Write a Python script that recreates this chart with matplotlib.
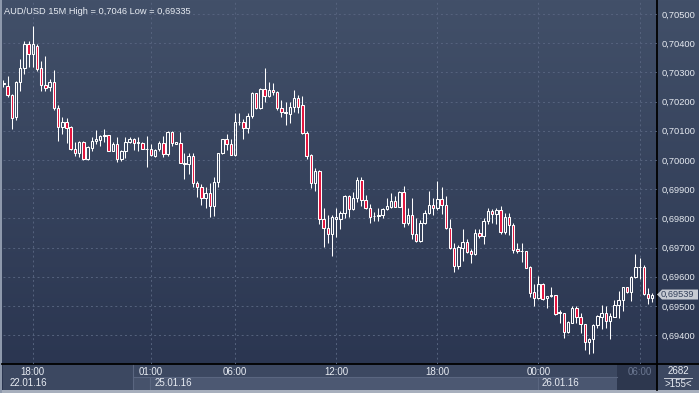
import numpy as np
import matplotlib
matplotlib.use("Agg")
import matplotlib.pyplot as plt
from matplotlib.colors import LinearSegmentedColormap
from matplotlib.patches import Rectangle, Polygon
from matplotlib import transforms

plt.rcParams['font.family'] = ['Liberation Sans', 'DejaVu Sans']

# =========================
# DATOS (velas de 15 minutos)
# =========================

symbol = "AUD/USD"
timeframe = "15M"

opens = [
    0.70260, 0.70253, 0.70223, 0.70146, 0.70266, 0.70314, 0.70397, 0.70362, 0.70391, 0.70314,
    0.70256, 0.70251, 0.70267, 0.70179, 0.70114, 0.70130, 0.70112, 0.70037, 0.70023, 0.70062,
    0.70002, 0.70042, 0.70066, 0.70070, 0.70081, 0.70085, 0.70032, 0.70054, 0.70002, 0.70031,
    0.70062, 0.70071, 0.70058, 0.70058, 0.70037, 0.70038, 0.70015, 0.70038, 0.70058, 0.70022,
    0.70097, 0.70056, 0.70059, 0.69989, 0.69986, 0.70015, 0.69920, 0.69909, 0.69869, 0.69886,
    0.69843, 0.69924, 0.70023, 0.70071, 0.70054, 0.70018, 0.70130, 0.70130, 0.70109, 0.70151,
    0.70228, 0.70177, 0.70242, 0.70219, 0.70239, 0.70232, 0.70177, 0.70160, 0.70158, 0.70183,
    0.70211, 0.70188, 0.70094, 0.70017, 0.69920, 0.69962, 0.69797, 0.69766, 0.69747, 0.69797,
    0.69797, 0.69817, 0.69877, 0.69831, 0.69869, 0.69932, 0.69863, 0.69835, 0.69808, 0.69808,
    0.69811, 0.69831, 0.69840, 0.69859, 0.69840, 0.69890, 0.69785, 0.69812, 0.69747, 0.69724,
    0.69785, 0.69817, 0.69845, 0.69835, 0.69865, 0.69845, 0.69766, 0.69698, 0.69638, 0.69700,
    0.69718, 0.69688, 0.69677, 0.69749, 0.69740, 0.69791, 0.69825, 0.69814, 0.69829, 0.69754,
    0.69804, 0.69777, 0.69694, 0.69688, 0.69688, 0.69632, 0.69547, 0.69526, 0.69575, 0.69526,
    0.69534, 0.69537, 0.69476, 0.69475, 0.69412, 0.69443, 0.69492, 0.69461, 0.69438, 0.69376,
    0.69386, 0.69435, 0.69463, 0.69475, 0.69450, 0.69463, 0.69503, 0.69520, 0.69564, 0.69549,
    0.69598, 0.69632, 0.69635, 0.69542, 0.69526,
]

highs = [
    0.70274, 0.70288, 0.70226, 0.70270, 0.70345, 0.70409, 0.70409, 0.70460, 0.70397, 0.70339,
    0.70356, 0.70276, 0.70308, 0.70188, 0.70146, 0.70143, 0.70116, 0.70063, 0.70066, 0.70066,
    0.70048, 0.70080, 0.70103, 0.70087, 0.70107, 0.70086, 0.70062, 0.70078, 0.70034, 0.70080,
    0.70078, 0.70074, 0.70080, 0.70062, 0.70082, 0.70055, 0.70037, 0.70064, 0.70082, 0.70098,
    0.70100, 0.70062, 0.70097, 0.70023, 0.70025, 0.70025, 0.69929, 0.69918, 0.69909, 0.69922,
    0.69941, 0.70025, 0.70072, 0.70089, 0.70071, 0.70160, 0.70160, 0.70139, 0.70160, 0.70233,
    0.70230, 0.70246, 0.70315, 0.70267, 0.70263, 0.70235, 0.70206, 0.70200, 0.70200, 0.70240,
    0.70223, 0.70219, 0.70100, 0.70020, 0.69972, 0.69966, 0.69835, 0.69812, 0.69812, 0.69835,
    0.69826, 0.69880, 0.69880, 0.69891, 0.69943, 0.69943, 0.69880, 0.69849, 0.69823, 0.69835,
    0.69836, 0.69869, 0.69886, 0.69877, 0.69894, 0.69911, 0.69835, 0.69869, 0.69800, 0.69795,
    0.69829, 0.69895, 0.69869, 0.69929, 0.69906, 0.69877, 0.69797, 0.69715, 0.69709, 0.69763,
    0.69728, 0.69696, 0.69763, 0.69763, 0.69800, 0.69835, 0.69831, 0.69835, 0.69842, 0.69820,
    0.69820, 0.69783, 0.69717, 0.69717, 0.69689, 0.69637, 0.69575, 0.69603, 0.69580, 0.69534,
    0.69566, 0.69537, 0.69486, 0.69477, 0.69450, 0.69498, 0.69498, 0.69477, 0.69438, 0.69389,
    0.69438, 0.69469, 0.69503, 0.69498, 0.69475, 0.69520, 0.69552, 0.69566, 0.69566, 0.69603,
    0.69677, 0.69663, 0.69640, 0.69561, 0.69545,
]

lows = [
    0.70251, 0.70215, 0.70105, 0.70137, 0.70237, 0.70294, 0.70320, 0.70320, 0.70306, 0.70236,
    0.70236, 0.70237, 0.70171, 0.70066, 0.70089, 0.70059, 0.70034, 0.70014, 0.70009, 0.70000,
    0.70000, 0.70032, 0.70055, 0.70048, 0.70062, 0.70031, 0.70031, 0.69994, 0.69998, 0.70007,
    0.70059, 0.70034, 0.70032, 0.70037, 0.69977, 0.70014, 0.70011, 0.70032, 0.70009, 0.70014,
    0.70048, 0.70055, 0.69989, 0.69934, 0.69952, 0.69909, 0.69872, 0.69846, 0.69835, 0.69806,
    0.69808, 0.69906, 0.70022, 0.70034, 0.70018, 0.70014, 0.70119, 0.70071, 0.70094, 0.70143,
    0.70175, 0.70175, 0.70198, 0.70217, 0.70224, 0.70171, 0.70146, 0.70120, 0.70126, 0.70163,
    0.70162, 0.70089, 0.70004, 0.69904, 0.69895, 0.69781, 0.69703, 0.69717, 0.69672, 0.69737,
    0.69763, 0.69800, 0.69806, 0.69829, 0.69857, 0.69842, 0.69831, 0.69785, 0.69792, 0.69792,
    0.69801, 0.69829, 0.69836, 0.69838, 0.69838, 0.69770, 0.69777, 0.69728, 0.69720, 0.69720,
    0.69781, 0.69815, 0.69812, 0.69829, 0.69815, 0.69763, 0.69694, 0.69617, 0.69626, 0.69655,
    0.69680, 0.69646, 0.69675, 0.69734, 0.69712, 0.69781, 0.69785, 0.69781, 0.69747, 0.69747,
    0.69743, 0.69682, 0.69680, 0.69652, 0.69629, 0.69532, 0.69500, 0.69523, 0.69520, 0.69492,
    0.69532, 0.69469, 0.69443, 0.69389, 0.69408, 0.69441, 0.69441, 0.69408, 0.69349, 0.69335,
    0.69340, 0.69424, 0.69420, 0.69424, 0.69386, 0.69461, 0.69458, 0.69484, 0.69545, 0.69518,
    0.69595, 0.69591, 0.69538, 0.69505, 0.69515,
]

closes = [
    0.70262, 0.70222, 0.70145, 0.70267, 0.70314, 0.70397, 0.70362, 0.70397, 0.70312, 0.70256,
    0.70248, 0.70267, 0.70178, 0.70114, 0.70130, 0.70111, 0.70037, 0.70023, 0.70062, 0.70002,
    0.70044, 0.70066, 0.70073, 0.70081, 0.70085, 0.70032, 0.70054, 0.70002, 0.70031, 0.70061,
    0.70071, 0.70059, 0.70062, 0.70037, 0.70038, 0.70016, 0.70033, 0.70058, 0.70022, 0.70096,
    0.70057, 0.70062, 0.69989, 0.69985, 0.70015, 0.69920, 0.69906, 0.69869, 0.69886, 0.69843,
    0.69924, 0.70023, 0.70071, 0.70054, 0.70018, 0.70130, 0.70129, 0.70109, 0.70151, 0.70228,
    0.70177, 0.70242, 0.70219, 0.70239, 0.70232, 0.70177, 0.70163, 0.70165, 0.70183, 0.70211,
    0.70183, 0.70094, 0.70014, 0.69920, 0.69962, 0.69797, 0.69766, 0.69747, 0.69804, 0.69804,
    0.69817, 0.69877, 0.69831, 0.69869, 0.69932, 0.69863, 0.69835, 0.69806, 0.69807, 0.69812,
    0.69831, 0.69842, 0.69859, 0.69840, 0.69890, 0.69785, 0.69812, 0.69747, 0.69724, 0.69785,
    0.69817, 0.69845, 0.69835, 0.69865, 0.69845, 0.69766, 0.69697, 0.69638, 0.69701, 0.69718,
    0.69686, 0.69677, 0.69749, 0.69740, 0.69791, 0.69825, 0.69814, 0.69829, 0.69754, 0.69804,
    0.69777, 0.69692, 0.69687, 0.69687, 0.69631, 0.69545, 0.69526, 0.69575, 0.69524, 0.69533,
    0.69535, 0.69472, 0.69477, 0.69412, 0.69445, 0.69494, 0.69461, 0.69438, 0.69376, 0.69386,
    0.69435, 0.69467, 0.69475, 0.69450, 0.69467, 0.69503, 0.69520, 0.69564, 0.69549, 0.69598,
    0.69632, 0.69635, 0.69541, 0.69526, 0.69539,
]

time_idx = [7, 35, 55, 79, 103, 127, 151]
time_labels = ["18:00", "01:00", "06:00", "12:00", "18:00", "00:00", "06:00"]
date_idx = [0, 35, 127]
date_labels = ["22.01.16", "25.01.16", "26.01.16"]
price_ticks = [0.694, 0.695, 0.696, 0.697, 0.698, 0.699,
               0.700, 0.701, 0.702, 0.703, 0.704, 0.705]
bars_total = 2682
bars_visible = 155


def fmt(v, dec=5):
    return f"{v:.{dec}f}".replace(".", ",")


# =========================
# FIGURA Y FONDO
# =========================

W, H = 699, 393
fig = plt.figure(figsize=(W / 100, H / 100), dpi=100)

bg = fig.add_axes([0, 0, 1, 1])
cmap = LinearSegmentedColormap.from_list("fondo", ["#425069", "#29344f"])
bg.imshow(np.linspace(0, 1, 256).reshape(-1, 1), cmap=cmap, aspect="auto",
          extent=[0, W, H, 0], zorder=0)
bg.set_xlim(0, W)
bg.set_ylim(H, 0)
bg.axis("off")

# panel inferior (eje de tiempo)
panel = [
    (3, 364, 654, 13, "#3c4861"),
    (3, 377, 130, 13, "#3c4861"),
    (133, 377, 17, 13, "#46526b"),
    (150, 377, 388, 13, "#4c5872"),
    (538, 377, 79, 13, "#4a5670"),
    (617, 364, 40, 26, "#2d374e"),
    (657, 364, 42, 26, "#3c4861"),
]
for x0, y0, w, h, col in panel:
    bg.add_patch(Rectangle((x0, y0), w, h, facecolor=col, edgecolor="none", zorder=1))

bg.plot([133, 617], [377, 377], color="#5a6680", lw=0.8, zorder=2)
bg.plot([133, 133], [364, 390], color="#5a6680", lw=0.8, zorder=2)
bg.plot([150, 150], [377, 390], color="#5a6680", lw=0.8, zorder=2)
bg.plot([538, 538], [377, 390], color="#5a6680", lw=0.8, zorder=2)
bg.plot([664, 692], [377.5, 377.5], color="#c8cdd6", lw=0.7, zorder=2)

# bordes
bg.add_patch(Rectangle((0, 390), W, 3, facecolor="#a7afbd", edgecolor="none", zorder=3))
bg.add_patch(Rectangle((0, 0), 2, H, facecolor="#8e99ac", edgecolor="none", zorder=3))
bg.plot([657, 657], [0, 390], color="black", lw=1.3, zorder=3)
bg.plot([2, W], [364, 364], color="black", lw=1.3, zorder=3)

# =========================
# VELAS
# =========================

ax = fig.add_axes([3 / W, 29 / H, 654 / W, 364 / H], zorder=2)
ax.set_facecolor("none")

o = np.array(opens)
h = np.array(highs)
l = np.array(lows)
c = np.array(closes)
x = np.arange(len(o))

sube = c >= o
cuerpo_bajo = np.minimum(o, c)
cuerpo_alto = np.maximum(o, c)
alto = np.maximum(cuerpo_alto - cuerpo_bajo, 0.00002)

ax.vlines(x, cuerpo_alto, h, color="white", lw=0.75, zorder=3)
ax.vlines(x, l, cuerpo_bajo, color="white", lw=0.75, zorder=3)
colores = ["none" if s else "#e3123c" for s in sube]
ax.bar(x, alto, bottom=cuerpo_bajo, width=0.58, color=colores,
       edgecolor="white", linewidth=0.75, zorder=4)

ax.set_xlim(-0.07, 155.13)
ax.set_ylim(0.69301, 0.70548)

ax.grid(True, color="#56637e", linestyle=(0, (2, 3)), linewidth=0.7, zorder=1)
for s in ax.spines.values():
    s.set_visible(False)

ax.set_xticks(time_idx, time_labels)
ax.tick_params(axis="x", length=0, pad=2.2, labelsize=7, labelcolor="#e8ecf3")
ax.get_xticklabels()[-1].set_color("#6b7791")

ax.yaxis.tick_right()
ax.set_yticks(price_ticks, [fmt(p) for p in price_ticks])
ax.tick_params(axis="y", length=0, pad=3, labelsize=6.7, labelcolor="#e6eaf0")

# fechas bajo las horas
trans = transforms.blended_transform_factory(ax.transData, bg.transData)
for i, (idx, txt) in enumerate(zip(date_idx, date_labels)):
    if i == 0:
        xpos, dx = ax.get_xlim()[0], 7
    else:
        xpos, dx = idx, 3.5
    t = transforms.offset_copy(trans, fig, x=dx, y=0, units="dots")
    ax.text(xpos, 383.5, txt, transform=t, ha="left", va="center",
            fontsize=7, color="#e8ecf3", clip_on=False)

# titulo
alto_max = f"{max(highs):.5f}".rstrip("0").replace(".", ",")
bajo_min = f"{min(lows):.5f}".rstrip("0").replace(".", ",")
fig.text(4 / W, 1 - 11.5 / H, f"{symbol} {timeframe} High = {alto_max} Low = {bajo_min}",
         va="center", ha="left", fontsize=6.7, color="#e8ecf3")

# etiqueta del precio actual
yp = bg.transData.inverted().transform(ax.transData.transform((0, closes[-1])))[1]
bg.add_patch(Polygon([(657, yp), (662, yp - 5), (698, yp - 5), (698, yp + 5), (662, yp + 5)],
                     closed=True, facecolor="#c6cad2", edgecolor="none", zorder=5))
bg.text(661, yp, fmt(closes[-1]), ha="left", va="center", fontsize=6.7,
        color="#33405a", zorder=6)

# contador de barras
bg.text(678, 371, str(bars_total), ha="center", va="center", fontsize=7, color="#e8ecf3")
bg.text(678, 384, f">{bars_visible}<", ha="center", va="center", fontsize=7, color="#e8ecf3")

fig.savefig("out.png", dpi=100)
